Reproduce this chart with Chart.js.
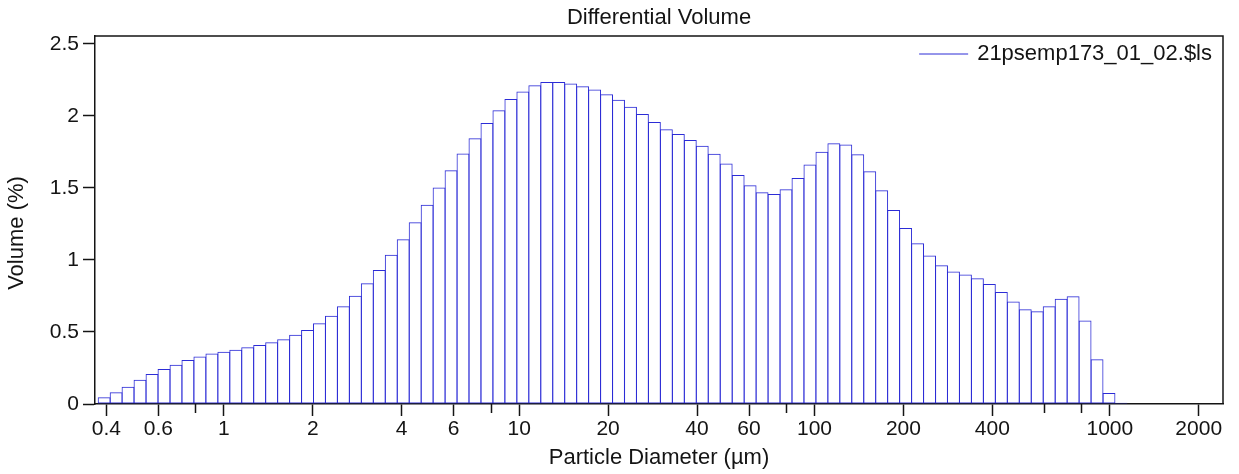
<!DOCTYPE html>
<html>
<head>
<meta charset="utf-8">
<script src="https://cdn.jsdelivr.net/npm/chart.js@4.4.0/dist/chart.umd.min.js"></script>
<style>
html,body{margin:0;padding:0;background:#ffffff;}
#wrap{width:1239px;height:474px;position:relative;}
</style>
</head>
<body>
<div id="wrap"><canvas id="c" width="1239" height="474"></canvas></div>
<script>
// ---- data ----
const chartTitle = 'Differential Volume';
const seriesLabel = '21psemp173_01_02.$ls';
const xAxisTitle = 'Particle Diameter (µm)';
const yAxisTitle = 'Volume (%)';

// channel edges (µm) of the laser diffraction size classes
const channelEdges = [
  0.375, 0.412, 0.452, 0.496, 0.545, 0.598, 0.657, 0.721, 0.791, 0.869,
  0.954, 1.047, 1.149, 1.261, 1.385, 1.520, 1.669, 1.832, 2.011, 2.207,
  2.423, 2.660, 2.920, 3.205, 3.519, 3.863, 4.241, 4.655, 5.110, 5.610,
  6.158, 6.760, 7.421, 8.147, 8.943, 9.817, 10.78, 11.83, 12.99, 14.26,
  15.65, 17.18, 18.86, 20.70, 22.73, 24.95, 27.38, 30.07, 33.00, 36.24,
  39.77, 43.66, 47.93, 52.63, 57.77, 63.41, 69.61, 76.42, 83.90, 92.09,
  101.1, 111.0, 121.8, 133.7, 146.8, 161.2, 176.8, 194.2, 213.2, 234.0,
  256.9, 282.1, 309.6, 339.9, 373.1, 409.6, 449.7, 493.6, 541.9, 594.9,
  653.0, 716.9, 786.9, 863.9, 948.3, 1041, 1143, 1255, 1377, 1512,
  1660, 1822, 2000
];

// differential volume (%) per channel
const volumePct = [
  0.046, 0.081, 0.120, 0.169, 0.208, 0.243, 0.273, 0.306, 0.329, 0.350,
  0.363, 0.377, 0.394, 0.410, 0.428, 0.449, 0.481, 0.514, 0.560, 0.613,
  0.678, 0.752, 0.838, 0.930, 1.035, 1.144, 1.262, 1.382, 1.502, 1.623,
  1.738, 1.845, 1.951, 2.039, 2.116, 2.169, 2.213, 2.234, 2.234, 2.225,
  2.206, 2.183, 2.150, 2.111, 2.063, 2.012, 1.958, 1.907, 1.873, 1.833,
  1.792, 1.736, 1.669, 1.590, 1.519, 1.470, 1.458, 1.491, 1.569, 1.662,
  1.751, 1.810, 1.801, 1.734, 1.616, 1.484, 1.347, 1.222, 1.116, 1.030,
  0.963, 0.919, 0.898, 0.873, 0.833, 0.778, 0.711, 0.657, 0.644, 0.678,
  0.731, 0.748, 0.579, 0.310, 0.077, 0.008, 0, 0, 0, 0,
  0, 0
];

const xTickValues = [0.4, 0.6, 0.8, 1, 2, 4, 6, 8, 10, 20, 40, 60, 80, 100, 200, 400, 600, 800, 1000, 2000];
const xTickLabels = ['0.4', '0.6', '', '1', '2', '4', '6', '', '10', '20', '40', '60', '', '100', '200', '400', '', '', '1000', '2000'];
const yTickValues = [0, 0.5, 1, 1.5, 2, 2.5];
const yTickLabels = ['0', '0.5', '1', '1.5', '2', '2.5'];

// ---- styles ----
const FONT = '"Liberation Sans", Arial, Helvetica, sans-serif';
const TEXT = '#141414';
const BLUE = 'rgb(44,44,214)';

const points = volumePct.map((v, i) => ({
  x: Math.sqrt(channelEdges[i] * channelEdges[i + 1]),
  y: v
}));

const framePlugin = {
  id: 'frame',
  beforeDatasetsDraw(chart) {
    const {ctx, chartArea: a} = chart;
    ctx.save();
    ctx.strokeStyle = TEXT;
    ctx.lineWidth = 1.5;
    ctx.beginPath();
    ctx.moveTo(a.left, a.top);
    ctx.lineTo(a.right, a.top);
    ctx.lineTo(a.right, a.bottom);
    ctx.stroke();
    // minor (unlabelled) x ticks, shorter
    const xs = chart.scales.x;
    ctx.beginPath();
    xTickValues.forEach((v, i) => {
      if (xTickLabels[i] === '') {
        const px = Math.round(xs.getPixelForValue(v)) + 0.5;
        ctx.moveTo(px, a.bottom);
        ctx.lineTo(px, a.bottom + 9);
      }
    });
    ctx.stroke();
    ctx.restore();
  },
  afterDraw(chart) {
    const {ctx, chartArea: a} = chart;
    ctx.save();
    // y axis title
    ctx.fillStyle = TEXT;
    ctx.font = '22px ' + FONT;
    ctx.textAlign = 'center';
    ctx.textBaseline = 'middle';
    ctx.translate(17, (a.top + a.bottom) / 2 + 13);
    ctx.rotate(-Math.PI / 2);
    ctx.fillText(yAxisTitle, 0, 0);
    ctx.restore();
    // legend inside plot, top right
    const ds = chart.data.datasets[0];
    ctx.save();
    ctx.font = '22px ' + FONT;
    const tw = ctx.measureText(ds.label).width;
    const textRight = a.right - 11;
    const textLeft = textRight - tw;
    const y = a.top + 18;
    ctx.strokeStyle = ds.borderColor;
    ctx.lineWidth = 1;
    ctx.beginPath();
    ctx.moveTo(textLeft - 58, y);
    ctx.lineTo(textLeft - 9, y);
    ctx.stroke();
    ctx.fillStyle = TEXT;
    ctx.textAlign = 'left';
    ctx.textBaseline = 'middle';
    ctx.fillText(ds.label, textLeft, y);
    ctx.restore();
  }
};

new Chart(document.getElementById('c'), {
  type: 'bar',
  data: {
    datasets: [{
      label: seriesLabel,
      data: points,
      backgroundColor: 'rgba(0,0,0,0)',
      borderColor: BLUE,
      borderWidth: 1,
      borderSkipped: false,
      barPercentage: 1.084,
      categoryPercentage: 1,
      inflateAmount: 0
    }]
  },
  plugins: [framePlugin],
  options: {
    responsive: false,
    animation: false,
    devicePixelRatio: 1,
    layout: {padding: {left: 0, right: 16, top: 0, bottom: 0}},
    plugins: {
      legend: {display: false},
      tooltip: {enabled: false},
      title: {
        display: true,
        text: chartTitle,
        fullSize: false,
        color: TEXT,
        font: {family: FONT, size: 22, weight: 'normal', lineHeight: '26px'},
        padding: {top: 5, bottom: 5}
      }
    },
    scales: {
      x: {
        type: 'logarithmic',
        min: 0.366,
        max: 2417,
        bounds: 'data',
        offset: false,
        afterBuildTicks: (s) => { s.ticks = xTickValues.map(v => ({value: v})); },
        afterFit: (s) => { s.height = 70; },
        ticks: {
          autoSkip: false,
          maxRotation: 0,
          minRotation: 0,
          padding: 1,
          color: TEXT,
          font: {family: FONT, size: 21},
          callback: (v, i) => xTickLabels[i]
        },
        grid: {
          display: true,
          offset: false,
          drawOnChartArea: false,
          drawTicks: true,
          tickLength: 12,
          tickWidth: 1.5,
          tickColor: (c) => (xTickLabels[c.index] === '' ? 'rgba(0,0,0,0)' : TEXT)
        },
        border: {display: true, color: TEXT, width: 1.5},
        title: {
          display: true,
          text: xAxisTitle,
          color: TEXT,
          font: {family: FONT, size: 22},
          padding: {top: 0, bottom: 3}
        }
      },
      y: {
        type: 'linear',
        min: 0,
        max: 2.554,
        bounds: 'data',
        afterBuildTicks: (s) => { s.ticks = yTickValues.map(v => ({value: v})); },
        afterFit: (s) => { s.width = 95; },
        ticks: {
          padding: 4,
          color: TEXT,
          font: {family: FONT, size: 21},
          callback: (v, i) => yTickLabels[i]
        },
        grid: {
          display: true,
          drawOnChartArea: false,
          drawTicks: true,
          tickLength: 12,
          tickWidth: 1.5,
          tickColor: TEXT
        },
        border: {display: true, color: TEXT, width: 1.5},
        title: {display: false}
      }
    }
  }
});
</script>
</body>
</html>
